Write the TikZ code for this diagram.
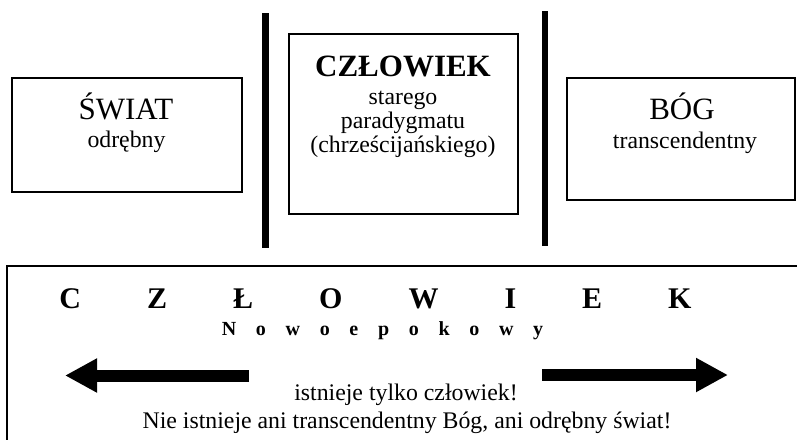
\documentclass[tikz,border=0pt]{standalone}
\usepackage{fontspec}
\setmainfont{Liberation Serif}
\usetikzlibrary{arrows.meta}
\newcommand{\spaced}[1]{\hspace{#1}}
\begin{document}
\begin{tikzpicture}[x=1pt,y=-1pt,
  frame/.style={draw,line width=2pt,inner sep=0pt},
  separator/.style={line width=6.5pt},
  title/.style={anchor=base,inner sep=0pt,font=\fontsize{31}{36}\selectfont},
  boldtitle/.style={anchor=base,inner sep=0pt,font=\fontsize{31}{36}\selectfont\bfseries},
  body/.style={anchor=base,inner sep=0pt,font=\fontsize{23.8}{28}\selectfont},
  fat arrow/.style={line width=12pt,-{Triangle[length=32pt,width=32pt]}}]
\useasboundingbox (0,0) rectangle (797,439);
\clip (0,0) rectangle (797,439);

% upper row: three frames
\node[frame,minimum width=230pt,minimum height=114pt] (world) at (127,135) {};
\node[frame,minimum width=229pt,minimum height=180pt] (oldman) at (403.5,124) {};
\node[frame,minimum width=228pt,minimum height=122pt] (god) at (681,139) {};

% thick separators between the frames
\coordinate (s1top) at (265.5,13);
\coordinate (s1bot) at (265.5,248);
\coordinate (s2top) at (545,11);
\coordinate (s2bot) at (545,246);
\draw[separator] (s1top) -- (s1bot);
\draw[separator] (s2top) -- (s2bot);

% texts of the upper frames
\node[title] (worldT) at (126,119) {ŚWIAT};
\node[body]  (worldS) at (126.5,147) {odrębny};

\node[boldtitle] (manT) at (403,76) {CZŁOWIEK};
\node[body] (manS1) at (403,104) {starego};
\node[body] (manS2) at (403,128) {paradygmatu};
\node[body] (manS3) at (403,152) {(chrześcijańskiego)};

\node[title] (godT) at (682,119) {BÓG};
\node[body]  (godS) at (685,148) {transcendentny};

% lower frame, running past the right and bottom edges
\node[frame,minimum width=823pt,minimum height=204pt] (newman) at (418.5,368) {};

\node[anchor=base,inner sep=0pt,font=\fontsize{30}{36}\selectfont\bfseries] (newT) at (375.5,308)
  {C\spaced{66pt}Z\spaced{66pt}Ł\spaced{66pt}O\spaced{66pt}W\spaced{66pt}I\spaced{66pt}E\spaced{66pt}K};
\node[anchor=base,inner sep=0pt,font=\fontsize{20}{24}\selectfont\bfseries] (newS) at (382.5,335)
  {N\spaced{19.7pt}o\spaced{19.7pt}w\spaced{19.7pt}o\spaced{19.7pt}e\spaced{19.7pt}p\spaced{19.7pt}o\spaced{19.7pt}k\spaced{19.7pt}o\spaced{19.7pt}w\spaced{19.7pt}y};

% arrows pointing outwards
\coordinate (la0) at (249,375.5);
\coordinate (la1) at (65,375.5);
\coordinate (ra0) at (542,375);
\coordinate (ra1) at (728,375);
\draw[fat arrow] (la0) -- (la1);
\draw[fat arrow] (ra0) -- (ra1);

\node[body] (line1) at (406,400) {istnieje tylko człowiek!};
\node[body] (line2) at (407,428) {Nie istnieje ani transcendentny Bóg, ani odrębny świat!};
\end{tikzpicture}
\end{document}
